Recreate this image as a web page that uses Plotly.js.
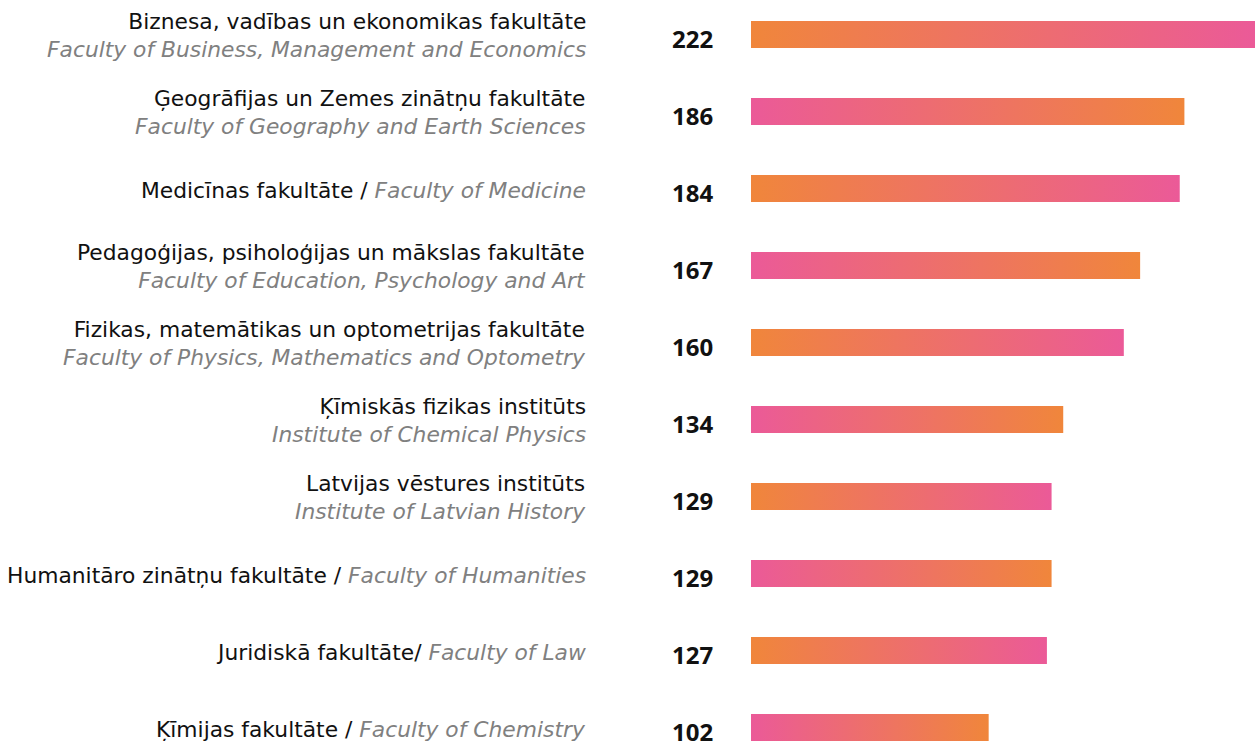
<!DOCTYPE html>
<html>
<head>
<meta charset="utf-8">
<script src="https://cdn.plot.ly/plotly-3.0.1.min.js"></script>
<style>
html,body{margin:0;padding:0;background:#fff;}
#chart{width:1255px;height:741px;}
</style>
</head>
<body>
<div id="chart"></div>
<script>
// ---- data ----
var categoriesLV = [
  "Biznesa, vadības un ekonomikas fakultāte",
  "Ģeogrāfijas un Zemes zinātņu fakultāte",
  "Medicīnas fakultāte",
  "Pedagoģijas, psiholoģijas un mākslas fakultāte",
  "Fizikas, matemātikas un optometrijas fakultāte",
  "Ķīmiskās fizikas institūts",
  "Latvijas vēstures institūts",
  "Humanitāro zinātņu fakultāte",
  "Juridiskā fakultāte",
  "Ķīmijas fakultāte"
];
var categoriesEN = [
  "Faculty of Business, Management and Economics",
  "Faculty of Geography and Earth Sciences",
  "Faculty of Medicine",
  "Faculty of Education, Psychology and Art",
  "Faculty of Physics, Mathematics and Optometry",
  "Institute of Chemical Physics",
  "Institute of Latvian History",
  "Faculty of Humanities",
  "Faculty of Law",
  "Faculty of Chemistry"
];
// true = Latvian and English on two lines, false = one line joined by a separator
var twoLine = [true, true, false, true, true, true, true, false, false, false];
var separators = ["", "", " / ", "", "", "", "", " / ", "/ ", " / "];
var values = [222, 186, 184, 167, 160, 134, 129, 129, 127, 102];

// ---- style ----
var ORANGE = "#F0863B";
var PINK = "#EB5A98";
var LABEL_FONT = "'DejaVu Sans', 'Noto Sans', sans-serif";
var VALUE_FONT = "'Noto Sans', 'Open Sans', sans-serif";
var xMax = 216.3;       // visible axis max
var halfH = 0.175;      // half bar thickness in category units

var traces = [];
values.forEach(function (v, i) {
  var end = Math.min(v, xMax);
  var scale = (i % 2 === 0) ? [[0, ORANGE], [1, PINK]] : [[0, PINK], [1, ORANGE]];
  traces.push({
    type: "scatter",
    mode: "lines",
    x: [0, v, v, 0, 0],
    y: [i - halfH, i - halfH, i + halfH, i + halfH, i - halfH],
    fill: "toself",
    fillgradient: {type: "horizontal", colorscale: scale, start: 0, stop: end},
    line: {width: 0, color: "rgba(0,0,0,0)"},
    hoverinfo: "skip",
    showlegend: false
  });
});

var annotations = [];
var labelX = (588 - 751) / 504;
var valueX = (715 - 751) / 504;
values.forEach(function (v, i) {
  annotations.push({
    xref: "paper", yref: "y", x: valueX, y: i,
    xanchor: "right", yanchor: "middle", yshift: -4,
    text: "<b>" + v + "</b>", showarrow: false,
    font: {family: VALUE_FONT, size: 24, color: "#111111"}
  });
  var txt;
  if (twoLine[i]) {
    txt = categoriesLV[i] + "<br><i><span style='color:#808080'>" + categoriesEN[i] + "</span></i>";
  } else {
    txt = categoriesLV[i] + separators[i] + "<i><span style='color:#808080'>" + categoriesEN[i] + "</span></i>";
  }
  annotations.push({
    xref: "paper", yref: "y", x: labelX, y: i,
    xanchor: "right", yanchor: "middle", align: "right",
    yshift: twoLine[i] ? -1 : -2,
    text: txt, showarrow: false,
    font: {family: LABEL_FONT, size: 21.8, color: "#111111"}
  });
});

var layout = {
  width: 1255, height: 741,
  margin: {l: 751, r: 0, t: 0, b: 0, pad: 0},
  paper_bgcolor: "#ffffff", plot_bgcolor: "#ffffff",
  xaxis: {range: [0, xMax], visible: false, showgrid: false, zeroline: false, fixedrange: true},
  yaxis: {range: [(741 - 34.5) / 77, -34.5 / 77], visible: false, showgrid: false, zeroline: false, fixedrange: true},
  annotations: annotations,
  showlegend: false
};

Plotly.newPlot("chart", traces, layout, {displayModeBar: false, staticPlot: true});
</script>
</body>
</html>
